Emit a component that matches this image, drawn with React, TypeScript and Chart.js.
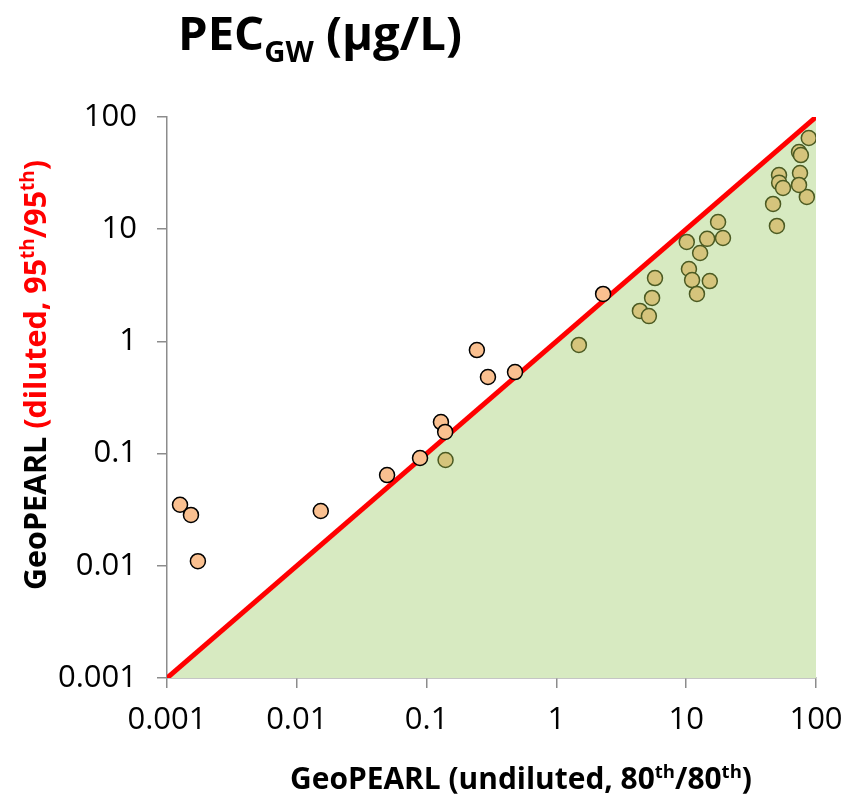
import React, { useEffect, useRef } from "react";
import { Chart, registerables } from "chart.js";

Chart.register(...registerables);

const FONT = '"Open Sans", "DejaVu Sans", sans-serif';

const tickValues = [0.001, 0.01, 0.1, 1, 10, 100];
const tickLabels = ["0.001", "0.01", "0.1", "1", "10", "100"];

// 1:1 reference line
const lineX = [0.001, 100];
const lineY = [0.001, 100];

// Points above / near the line (orange)
const orangeX = [0.00126, 0.00153, 0.00173, 0.0153, 0.0496, 0.089, 0.129, 0.139, 0.244, 0.297, 0.48, 2.29];
const orangeY = [0.035, 0.0284, 0.011, 0.0308, 0.0644, 0.0914, 0.191, 0.156, 0.837, 0.482, 0.533, 2.65];

// Points below the line (olive)
const oliveX = [0.14, 1.49, 5.75, 5.46, 4.4, 5.16, 10.1, 12.8, 14.5, 17.6, 19.2, 10.5, 11.1, 12.1, 15.2, 46.7, 50, 85, 88, 74, 76.5, 51.9, 75.3, 52, 55.7, 74];
const oliveY = [0.0877, 0.93, 3.67, 2.44, 1.87, 1.68, 7.7, 6.14, 8.2, 11.6, 8.35, 4.42, 3.52, 2.65, 3.45, 16.8, 10.7, 19.4, 65, 48.7, 45.8, 30.4, 31.7, 26, 23.3, 24.8];

type Seg = { t: string; c: string; sup?: boolean; sub?: boolean };

function segFont(s: Seg, size: number) {
  const sz = s.sup || s.sub ? size * 0.62 : size;
  return `bold ${sz}px ${FONT}`;
}

function measureSegs(ctx: CanvasRenderingContext2D, segs: Seg[], size: number) {
  let w = 0;
  for (const s of segs) {
    ctx.font = segFont(s, size);
    w += ctx.measureText(s.t).width;
  }
  return w;
}

function drawSegs(ctx: CanvasRenderingContext2D, segs: Seg[], targetW: number, baseSize: number, cx: number, by: number) {
  const w0 = measureSegs(ctx, segs, baseSize);
  const size = (baseSize * targetW) / w0;
  const w = measureSegs(ctx, segs, size);
  let x = cx - w / 2;
  ctx.textAlign = "left";
  ctx.textBaseline = "alphabetic";
  for (const s of segs) {
    ctx.font = segFont(s, size);
    ctx.fillStyle = s.c;
    let y = by;
    if (s.sup) y = by - size * 0.38;
    if (s.sub) y = by + size * 0.26;
    ctx.fillText(s.t, x, y);
    x += ctx.measureText(s.t).width;
  }
}

const textPlugin = {
  id: "textPlugin",
  afterDraw(chart: any) {
    const ctx: CanvasRenderingContext2D = chart.ctx;
    ctx.save();
    // Title
    const title: Seg[] = [
      { t: "PEC", c: "#000" },
      { t: "GW", c: "#000", sub: true },
      { t: " (µg/L)", c: "#000" },
    ];
    drawSegs(ctx, title, 284, 46, 178 + 142, 50);

    // X axis title
    const xt: Seg[] = [
      { t: "GeoPEARL (undiluted, 80", c: "#000" },
      { t: "th", c: "#000", sup: true },
      { t: "/80", c: "#000" },
      { t: "th", c: "#000", sup: true },
      { t: ")", c: "#000" },
    ];
    drawSegs(ctx, xt, 462, 26, 521, 789);

    // Y axis title
    const yt: Seg[] = [
      { t: "GeoPEARL ", c: "#000" },
      { t: "(diluted, 95", c: "#ff0000" },
      { t: "th", c: "#ff0000", sup: true },
      { t: "/95", c: "#ff0000" },
      { t: "th", c: "#ff0000", sup: true },
      { t: ")", c: "#ff0000" },
    ];
    ctx.translate(46, 375);
    ctx.rotate(-Math.PI / 2);
    drawSegs(ctx, yt, 430, 26, 0, 0);
    ctx.restore();
  },
};

function makeScale(position: "bottom" | "left") {
  return {
    type: "logarithmic" as const,
    position,
    min: 0.001,
    max: 100,
    afterBuildTicks: (s: any) => {
      s.ticks = tickValues.map((v) => ({ value: v }));
    },
    afterFit: (s: any) => {
      if (position === "left") {
        s.width = 167;
        s.paddingTop = 0;
        s.paddingBottom = 0;
      } else {
        s.height = 120;
        s.paddingLeft = 0;
        s.paddingRight = 0;
      }
    },
    ticks: {
      autoSkip: false,
      maxRotation: 0,
      color: "#000",
      padding: position === "left" ? 20 : 14,
      font: { family: FONT, size: 31 },
      callback: (v: any) => {
        const i = tickValues.findIndex((t) => Math.abs(Math.log10(t) - Math.log10(Number(v))) < 1e-6);
        return i >= 0 ? tickLabels[i] : "";
      },
    },
    grid: {
      display: true,
      drawOnChartArea: false,
      drawTicks: true,
      tickLength: 10,
      color: "#8c8c8c",
      lineWidth: 1.5,
    },
    border: { display: true, color: "#8c8c8c", width: 1.5 },
  };
}

export default function App() {
  const ref = useRef<HTMLCanvasElement | null>(null);
  useEffect(() => {
    if (!ref.current) return;
    const chart = new Chart(ref.current, {
      type: "scatter",
      data: {
        datasets: [
          {
            label: "orange",
            data: orangeX.map((x, i) => ({ x, y: orangeY[i] })),
            backgroundColor: "#fac090",
            borderColor: "#000000",
            borderWidth: 1.5,
            pointRadius: 7.5,
            order: 1,
          },
          {
            label: "olive",
            data: oliveX.map((x, i) => ({ x, y: oliveY[i] })),
            backgroundColor: "#d5c47c",
            borderColor: "#4b5a22",
            borderWidth: 1.5,
            pointRadius: 7.5,
            order: 2,
          },
          {
            label: "1:1",
            data: lineX.map((x, i) => ({ x, y: lineY[i] })),
            showLine: true,
            borderColor: "#ff0000",
            borderWidth: 5,
            backgroundColor: "#d7eac1",
            fill: "start",
            pointRadius: 0,
            order: 3,
          } as any,
        ],
      },
      options: {
        animation: false,
        responsive: true,
        maintainAspectRatio: false,
        layout: { padding: { top: 117, right: 38, left: 0, bottom: 0 } },
        plugins: { legend: { display: false }, tooltip: { enabled: false }, title: { display: false } },
        scales: {
          x: makeScale("bottom") as any,
          y: makeScale("left") as any,
        },
      },
      plugins: [textPlugin],
    });
    return () => chart.destroy();
  }, []);
  return (
    <div style={{ position: "fixed", left: 0, top: 0, width: 854, height: 798, background: "#fff" }}>
      <canvas ref={ref} />
    </div>
  );
}
